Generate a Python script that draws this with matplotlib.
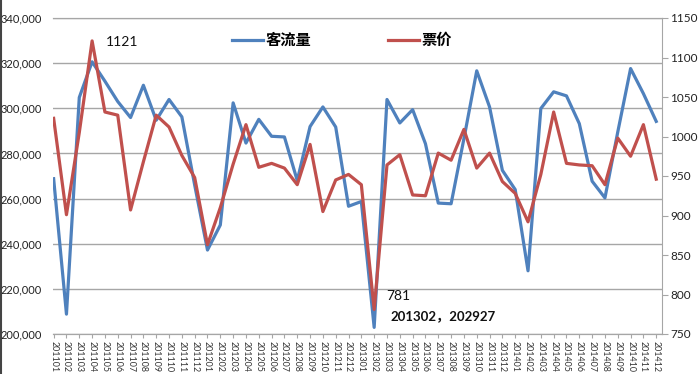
import matplotlib
matplotlib.use("Agg")
import matplotlib.pyplot as plt
from matplotlib.lines import Line2D
from matplotlib.ticker import FuncFormatter, MultipleLocator

plt.rcParams["font.family"] = ["Lato", "Noto Sans CJK SC", "DejaVu Sans"]

# 月份：2011-01 ~ 2014-12
months = [f"{y}{m:02d}" for y in range(2011, 2015) for m in range(1, 13)]

# 客流量（左轴）
passengers = [
    268800, 208800, 304800, 320600, 312000, 303000, 295900, 310200, 294700, 303900, 296200, 266000,
    237200, 248300, 302400, 284600, 295100, 287600, 287300, 268000, 291900, 300600, 291700, 256600,
    258700, 202927, 303900, 293500, 299400, 284300, 258000, 257700, 286500, 316600, 300600, 272500,
    264000, 228000, 299900, 307300, 305500, 293200, 267700, 260300, 289500, 317600, 306500, 294200,
]

# 票价（右轴）
fares = [
    1023, 901, 1005, 1121, 1031, 1027, 907, 968, 1027, 1012, 976, 948,
    863, 910, 965, 1015, 961, 966, 960, 939, 990, 905, 945, 952,
    939, 781, 964, 977, 926, 925, 979, 970, 1009, 960, 979, 943,
    928, 892, 952, 1031, 966, 964, 963, 939, 998, 975, 1015, 946,
]

BLUE = "#4F81BD"
RED = "#C0504D"
GRID = "#A6A6A6"

x = list(range(len(months)))

fig = plt.figure(figsize=(7.0, 3.74), dpi=100)
ax = fig.add_axes([53 / 700, 1 - 334 / 374, 609 / 700, 316 / 374])
ax2 = ax.twinx()

line_p, = ax.plot(x, passengers, color=BLUE, lw=2.3, label="客流量", zorder=3)
line_f, = ax2.plot(x, fares, color=RED, lw=2.3, label="票价", zorder=3)

ax.set_xlim(-0.05, len(months) - 1 + 0.45)
ax.set_ylim(200000, 340000)
ax.yaxis.set_major_locator(MultipleLocator(20000))
ax.yaxis.set_major_formatter(FuncFormatter(lambda v, _: f"{int(v):,}"))
ax.grid(axis="y", color=GRID, lw=1)
ax.set_axisbelow(True)

ax2.set_ylim(750, 1150)
ax2.yaxis.set_major_locator(MultipleLocator(50))

ax.set_xticks(x)
ax.set_xticklabels(months, rotation=270, fontsize=6.4, color="#333333")
ax.tick_params(axis="x", direction="out", length=3, color=GRID, pad=2)
ax.tick_params(axis="y", length=0, labelsize=8, pad=8, labelcolor="#222222")
ax2.tick_params(axis="y", direction="out", length=4, color=GRID, labelsize=8.5,
                pad=2, labelcolor="#222222")

for a in (ax, ax2):
    a.spines["left"].set_visible(False)
    a.spines["top"].set_color(GRID)
    a.spines["bottom"].set_color(GRID)
    a.spines["right"].set_color(GRID)
ax.spines["right"].set_visible(False)

ax.legend(handles=[line_p, line_f], loc="center", bbox_to_anchor=(0.475, 0.93),
          ncol=2, frameon=False, columnspacing=5, handlelength=2.0,
          handletextpad=0.2, prop={"family": "Noto Sans CJK SC", "weight": "bold", "size": 11})

ax2.text(4.05, 1119, "1121", fontsize=10, va="center", ha="left", color="#111111")
ax2.text(25.95, 798, "781", fontsize=10, va="center", ha="left", color="#111111")
ax2.text(26.3, 772, "201302，202927", fontsize=9.5, fontweight="bold", va="center",
         ha="left", color="#111111", family=["Lato", "Noto Sans CJK SC"])

fig.add_artist(Line2D([0.0015, 0.0015], [0, 1], color="#444444", lw=1.5))

fig.savefig("out.png", dpi=100)
